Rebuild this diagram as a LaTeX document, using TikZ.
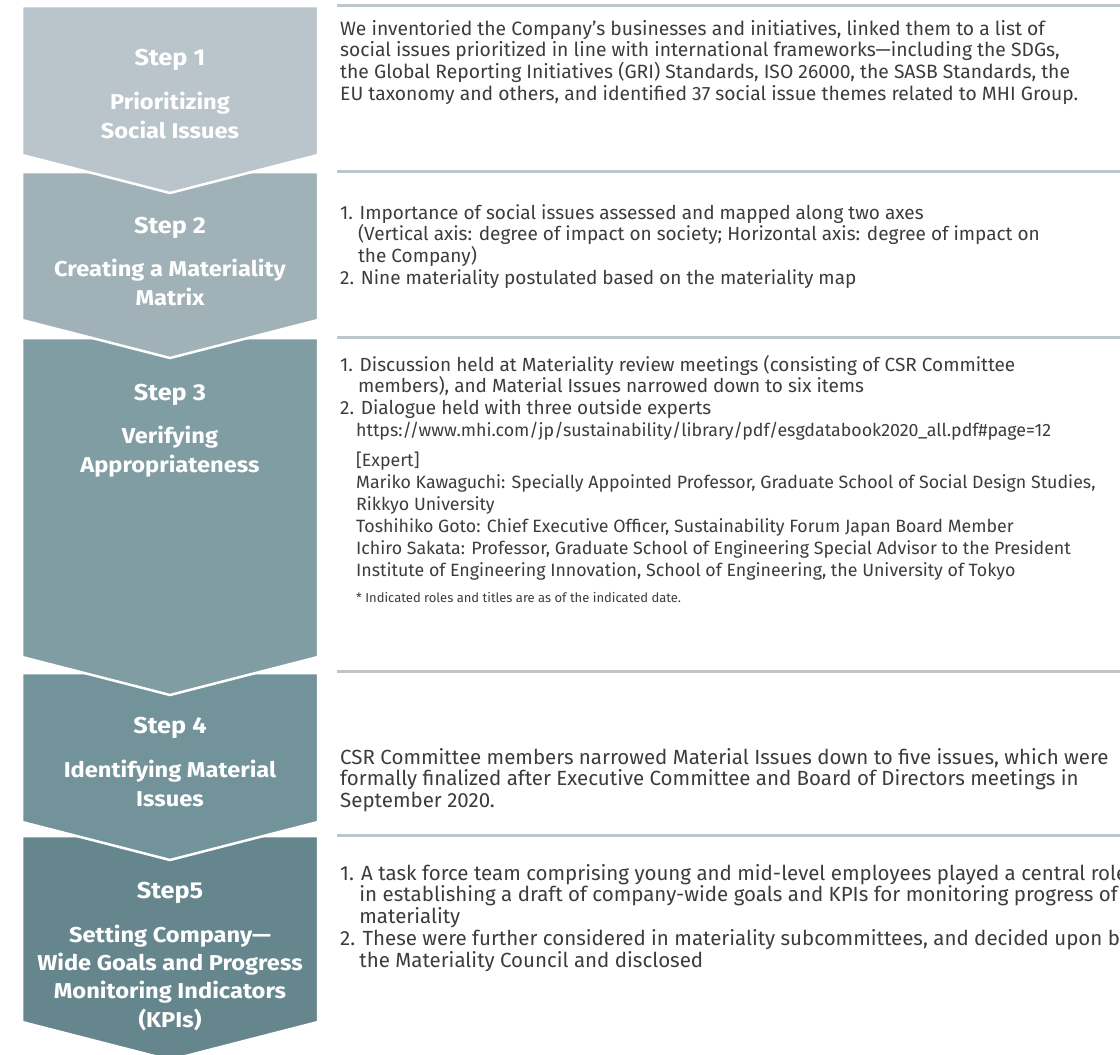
\documentclass[tikz,border=0pt]{standalone}
\usepackage{fontspec}
\setmainfont{Fira Sans}
\newfontfamily\titlefont{Fira Sans}[FakeStretch=1.1]
\definecolor{stepA}{HTML}{B9C5CA}
\definecolor{stepB}{HTML}{A0B1B7}
\definecolor{stepC}{HTML}{809DA4}
\definecolor{stepD}{HTML}{73939B}
\definecolor{stepE}{HTML}{66868E}
\definecolor{sepgray}{HTML}{BCC6CB}
\definecolor{bodygray}{HTML}{3C3C3C}
\newcommand{\hang}{\hphantom{1.\ }}
\tikzset{
  steplabel/.style={anchor=base, text=white, inner sep=0,
    font=\titlefont\bfseries\fontsize{23}{25}\selectfont},
  steptitle/.style={anchor=base, align=center, text=white, inner sep=0,
    font=\titlefont\bfseries\fontsize{21.5}{28.3}\selectfont},
  bodytext/.style={anchor=base west, align=left, text=bodygray, inner sep=0,
    font=\fontsize{#1}{21.8}\selectfont},
  bodytext/.default=19,
  smalltext/.style={bodytext, font=\fontsize{17.8}{22}\selectfont},
  notetext/.style={bodytext, font=\fontsize{13}{15}\selectfont},
  sepline/.style={draw=sepgray, line width=3pt}
}
\begin{document}
\begin{tikzpicture}[x=1pt,y=-1pt]
\useasboundingbox (0,0) rectangle (1120,1055);
% chevrons, lowest first so each one overlaps the next
\foreach \t/\c/\col in {836/1022/stepE,673/822/stepD,338/657/stepC,172/320/stepB,6/155/stepA}{
\filldraw[fill=\col,draw=white,line width=2.5pt] (22,\t)--(318,\t)--(318,\c)--(170,\c+38)--(22,\c)--cycle;
}
% separators
\foreach \y in {5,171,337,671,835}{
\draw[sepline] (337,\y)--(1120,\y);
}

% step labels (base = last line)
\node[steplabel] (lab1) at (170,65) {Step 1};
\node[steptitle] (tit1) at (170,138) {Prioritizing\\Social Issues};
\node[steplabel] (lab2) at (170,233) {Step 2};
\node[steptitle] (tit2) at (170,305) {Creating a Materiality\\Matrix};
\node[steplabel] (lab3) at (170,400) {Step 3};
\node[steptitle] (tit3) at (170,472) {Verifying\\Appropriateness};
\node[steplabel] (lab4) at (170,733) {Step 4};
\node[steptitle] (tit4) at (170,806) {Identifying Material\\Issues};
\node[steplabel] (lab5) at (170,898) {Step5};
\node[steptitle] (tit5) at (170,1027) {Setting Company—\\Wide Goals and Progress\\Monitoring Indicators\\(KPIs)};

% step texts
\node[bodytext=19.3] (body1) at (340,100.4) {We inventoried the Company’s businesses and initiatives, linked them to a list of\\
social issues prioritized in line with international frameworks—including the SDGs,\\
the Global Reporting Initiatives (GRI) Standards, ISO 26000, the SASB Standards, the\\
EU taxonomy and others, and identified 37 social issue themes related to MHI Group.};

\node[bodytext] (body2) at (340,284.4) {1. Importance of social issues assessed and mapped along two axes\\
\hang(Vertical axis: degree of impact on society; Horizontal axis: degree of impact on\\
\hang the Company)\\
2. Nine materiality postulated based on the materiality map};

\node[bodytext] (body3) at (340,414.6) {1. Discussion held at Materiality review meetings (consisting of CSR Committee\\
\hang members), and Material Issues narrowed down to six items\\
2. Dialogue held with three outside experts};
\node[smalltext] (url3) at (356,436) {https://www.mhi.com/jp/sustainability/library/pdf/esgdatabook2020\_all.pdf\#page=12};
\node[smalltext] (expert3) at (356,576) {[Expert]\\
Mariko Kawaguchi: Specially Appointed Professor, Graduate School of Social Design Studies,\\
Rikkyo University\\
Toshihiko Goto: Chief Executive Officer, Sustainability Forum Japan Board Member\\
Ichiro Sakata: Professor, Graduate School of Engineering Special Advisor to the President\\
Institute of Engineering Innovation, School of Engineering, the University of Tokyo};
\node[notetext] (note3) at (356,602) {* Indicated roles and titles are as of the indicated date.};

\node[bodytext=20.5] (body4) at (340,807.6) {CSR Committee members narrowed Material Issues down to five issues, which were\\
formally finalized after Executive Committee and Board of Directors meetings in\\
September 2020.};

\node[bodytext=20.5] (body5) at (340,967.2) {1. A task force team comprising young and mid-level employees played a central role\\
\hang in establishing a draft of company-wide goals and KPIs for monitoring progress of\\
\hang materiality\\
2. These were further considered in materiality subcommittees, and decided upon by\\
\hang the Materiality Council and disclosed};
\end{tikzpicture}
\end{document}
